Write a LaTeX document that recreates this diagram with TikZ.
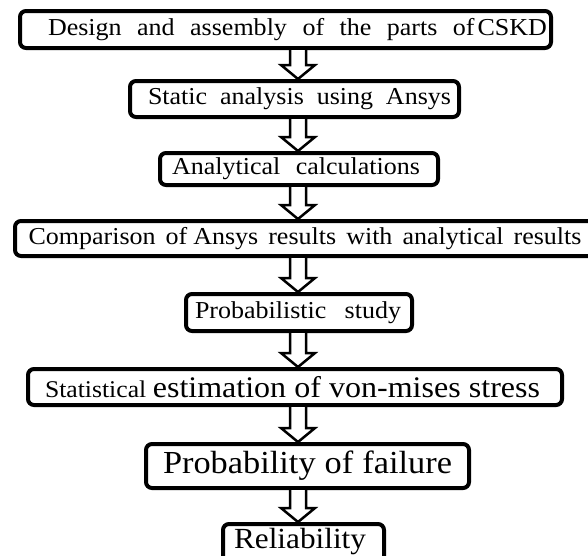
\documentclass[tikz,border=0pt]{standalone}
\usepackage{fontspec}
\setmainfont[FakeStretch=1.07]{Liberation Serif}
\usepackage{tikz}
\usetikzlibrary{calc}
\tikzset{
  stage/.style={draw, line width=4pt, rounded corners=6pt, inner sep=0pt, align=center},
  barrow/.style={draw, fill=white, line width=2.5pt, line join=miter},
}

\begin{document}
\begin{tikzpicture}[x=1pt, y=-1pt]
\useasboundingbox (0,0) rectangle (588,555);
\clip (0,0) rectangle (588,555);
\coordinate (ax) at (298,0);

\node[stage, minimum width=531pt, minimum height=37pt] (des) at (285.5,29.5)
  {\fontsize{24.3}{28}\selectfont\hspace*{24pt}\makebox[499pt][s]{Design and assembly of the parts of\kern3pt CSKD}};
\node[stage, minimum width=329pt, minimum height=36pt] (sta) at (294.5,99)
  {\fontsize{24.3}{28}\selectfont\hspace*{10pt}\makebox[303pt][s]{Static analysis using Ansys}};
\node[stage, minimum width=278pt, minimum height=32pt] (ana) at (299,169)
  {\fontsize{24.3}{28}\selectfont\makebox[248pt][s]{Analytical calculations}\hspace*{6pt}};
\node[stage, minimum width=580pt, minimum height=35pt] (com) at (305,238.5)
  {\fontsize{24.3}{28}\selectfont\makebox[553pt][s]{Comparison of\kern6pt Ansys results with analytical results}};
\node[stage, minimum width=226pt, minimum height=37pt] (pro) at (299,312.5)
  {\fontsize{24.3}{28}\selectfont\makebox[206pt][s]{Probabilistic study}\hspace*{2pt}};
\node[stage, minimum width=534pt, minimum height=36pt] (est) at (295,387)
  {\makebox[495pt][s]{\fontsize{24}{28}\selectfont Statistical \fontsize{29.9}{34}\selectfont estimation of von-mises stress}\hspace*{5pt}};
\node[stage, minimum width=323pt, minimum height=44pt] (fai) at (307.5,466)
  {\fontsize{32.1}{36}\selectfont\makebox[289pt][s]{Probability of failure}};
\node[stage, minimum width=161pt, minimum height=40pt, text height=20pt, text depth=12pt] (rel) at (303.5,544)
  {\fontsize{29.2}{34}\selectfont Reliability\hspace*{7pt}};

\foreach \src/\dst in {des/sta, sta/ana, ana/com, com/pro, pro/est, est/fai, fai/rel}
  \draw[barrow] ($(ax |- \src.south)+(-8,0)$) -- ($(ax |- \dst.north)+(-8,-14)$)
    -- ($(ax |- \dst.north)+(-17,-14)$) -- ($(ax |- \dst.north)+(0,0)$)
    -- ($(ax |- \dst.north)+(17,-14)$) -- ($(ax |- \dst.north)+(8,-14)$)
    -- ($(ax |- \src.south)+(8,0)$);
\end{tikzpicture}
\end{document}
